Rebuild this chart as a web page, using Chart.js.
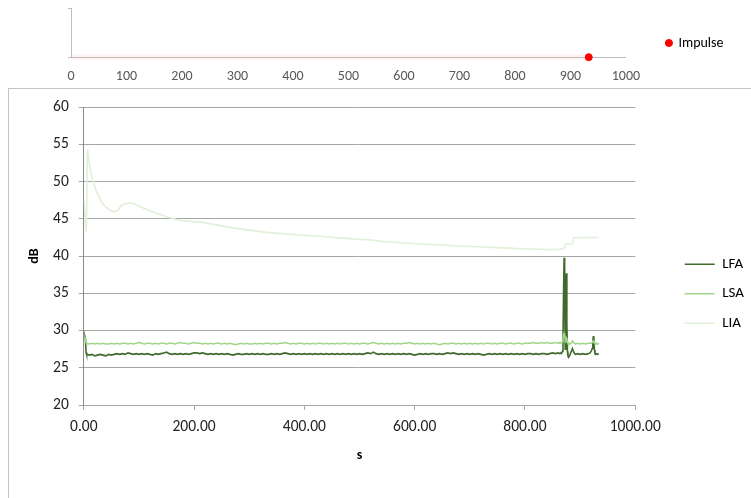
<!DOCTYPE html>
<html><head><meta charset="utf-8">
<script src="https://cdn.jsdelivr.net/npm/chart.js@4.4.1/dist/chart.umd.min.js"></script>
<style>
html,body{margin:0;padding:0;background:#fff;overflow:hidden;width:751px;height:498px;}
#top{position:absolute;left:0;top:0;}
#frame{position:absolute;left:8px;top:88px;width:760px;height:420px;border-left:1px solid #c4c4c4;border-top:1px solid #c4c4c4;}
#main{position:absolute;left:0;top:88px;}
</style></head><body>
<canvas id="top" width="751" height="96"></canvas>
<div id="frame"></div>
<canvas id="main" width="751" height="410"></canvas>
<script>
// ---------- Top chart (Impulse) ----------
const impulseTimes = [933];
const impulseValues = [0];
const trailTimes = [0, 930];
const trailValues = [0, 0];
const topTickStep = 100;

// ---------- Main chart: LFA / LSA sampling times (s) ----------
const sTimes = [0,1,2,3,4,5,
10,15,20,25,30,35,40,45,50,55,
60,65,70,75,80,85,90,95,100,105,
110,115,120,125,130,135,140,145,150,155,
160,165,170,175,180,185,190,195,200,205,
210,215,220,225,230,235,240,245,250,255,
260,265,270,275,280,285,290,295,300,305,
310,315,320,325,330,335,340,345,350,355,
360,365,370,375,380,385,390,395,400,405,
410,415,420,425,430,435,440,445,450,455,
460,465,470,475,480,485,490,495,500,505,
510,515,520,525,530,535,540,545,550,555,
560,565,570,575,580,585,590,595,600,605,
610,615,620,625,630,635,640,645,650,655,
660,665,670,675,680,685,690,695,700,705,
710,715,720,725,730,735,740,745,750,755,
760,765,770,775,780,785,790,795,800,805,
810,815,820,825,830,835,840,845,850,855,
860,
862,864,866,868,869,870,871,872,873,874,875,876,877,878,879,880,882,884,886,888,890,892,895,900,905,910,915,918,920,922,923,924,925,926,927,928,930,932,934];

const lfaValues = [29.3,29.0,29.2,28.9,27.1,26.8,
26.7,26.8,26.6,26.7,26.8,26.7,26.6,26.8,26.7,26.8,
26.9,26.8,26.9,26.8,27.0,26.9,26.8,26.9,26.8,26.9,
26.8,26.9,26.8,26.7,26.9,26.8,26.9,27.0,27.1,26.9,
26.8,26.9,26.8,26.9,26.8,26.9,26.8,26.9,27.0,27.0,
26.9,27.0,26.9,26.8,26.9,26.8,26.9,26.8,26.9,26.8,
26.9,26.8,26.7,26.8,26.9,26.8,26.8,26.9,26.8,26.9,
26.8,26.9,26.8,26.9,26.8,26.8,26.9,26.8,26.9,26.8,
26.9,27.0,26.9,26.8,26.9,26.8,26.9,26.8,26.9,26.8,
26.9,26.8,26.9,26.8,26.9,26.8,26.9,26.8,26.9,26.8,
26.9,26.8,26.9,26.8,26.9,26.8,26.9,26.8,26.9,26.8,
26.9,27.0,26.9,27.1,26.9,26.8,26.9,26.8,26.9,26.8,
26.9,26.8,26.9,26.8,26.9,26.8,26.9,26.8,26.7,26.8,
26.9,26.8,26.9,26.8,26.9,26.9,26.8,26.9,26.8,26.9,
27.0,26.9,27.0,26.9,26.8,26.9,26.8,26.9,26.8,26.9,
26.8,26.9,26.8,26.7,26.8,26.9,26.8,26.9,26.8,26.9,
26.8,26.9,26.8,26.9,26.8,26.9,26.8,26.9,26.8,26.9,
26.9,26.8,26.9,26.8,26.9,26.9,26.8,26.9,27.0,26.9,
27.0,
26.9,27.0,26.9,27.2,29.0,35.0,39.8,34.0,27.5,30.0,37.7,31.0,27.2,26.6,26.4,26.5,26.8,27.2,27.6,27.2,26.9,26.8,26.9,26.8,26.9,26.8,26.9,27.0,27.2,27.6,28.2,29.25,28.5,27.4,26.9,26.8,26.9,26.8,26.9];

const lsaValues = [29.0,28.9,29.0,28.8,28.4,28.3,
28.2,28.3,28.2,28.3,28.2,28.3,28.2,28.2,28.3,28.2,
28.3,28.2,28.3,28.3,28.2,28.3,28.2,28.3,28.4,28.3,
28.2,28.3,28.3,28.2,28.3,28.2,28.3,28.3,28.2,28.3,
28.3,28.2,28.3,28.4,28.3,28.3,28.2,28.3,28.4,28.3,
28.3,28.2,28.3,28.2,28.3,28.2,28.3,28.3,28.2,28.3,
28.2,28.3,28.2,28.1,28.2,28.3,28.2,28.3,28.2,28.2,
28.3,28.2,28.3,28.2,28.3,28.3,28.2,28.3,28.2,28.3,
28.3,28.4,28.3,28.2,28.3,28.2,28.3,28.3,28.2,28.3,
28.2,28.3,28.2,28.3,28.3,28.2,28.3,28.2,28.3,28.2,
28.3,28.2,28.3,28.3,28.2,28.3,28.2,28.3,28.2,28.3,
28.3,28.2,28.3,28.4,28.3,28.2,28.3,28.2,28.3,28.2,
28.3,28.2,28.3,28.2,28.3,28.3,28.4,28.3,28.2,28.3,
28.2,28.3,28.2,28.3,28.2,28.3,28.2,28.1,28.2,28.3,
28.2,28.3,28.3,28.2,28.3,28.2,28.3,28.2,28.3,28.2,
28.3,28.2,28.3,28.2,28.3,28.3,28.2,28.3,28.2,28.3,
28.3,28.2,28.3,28.3,28.2,28.3,28.3,28.2,28.3,28.3,
28.3,28.4,28.3,28.3,28.4,28.3,28.4,28.3,28.3,28.4,
28.3,
28.4,28.3,28.4,28.5,28.9,29.4,29.6,29.4,29.0,28.8,29.0,28.8,28.5,28.3,28.2,28.3,28.2,28.3,28.6,28.4,28.3,28.2,28.3,28.2,28.3,28.2,28.3,28.3,28.3,28.4,28.5,28.6,28.5,28.4,28.3,28.2,28.3,28.2,28.3];

// ---------- LIA ----------
const liaTimes = [0,2,4.4,6.7,9,13.5,18,22.5,28,34.5,42,49.8,57.6,62,68,74,80,87,95,107,119,135,150,165,180,195,211,240,271,300,332,362,392,422,453,483,513,530,537,574,620,660,700,750,790,820,840,860,868,872,874,886,889,900,934];
const liaValues = [47.7,45.5,43.4,54.3,52.8,51.0,49.8,48.8,47.9,47.0,46.5,46.1,46.0,46.2,46.8,47.0,47.1,47.1,46.9,46.5,46.1,45.7,45.3,45.0,44.75,44.65,44.6,44.2,43.8,43.5,43.2,43.0,42.85,42.7,42.5,42.35,42.2,42.1,42.0,41.8,41.6,41.45,41.3,41.15,41.0,40.95,40.9,40.9,41.0,41.2,41.65,41.65,42.45,42.5,42.5];

const seriesNames = ['LFA','LSA','LIA'];
const xTitle = 's';
const yTitle = 'dB';

const FONT = "Carlito, 'Liberation Sans', Arial, sans-serif";

const legendNudge = {
  id: 'legendNudge',
  afterLayout(chart, args, opts) {
    const l = chart.legend;
    if (!l || !opts) return;
    const dx = opts.dx || 0, dy = opts.dy || 0;
    l.left += dx; l.right += dx; l.top += dy; l.bottom += dy;
  }
};

const pts = (xs, ys) => xs.map((t, i) => ({x: t, y: ys[i]}));

new Chart(document.getElementById('top'), {
  type: 'scatter',
  data: {
    datasets: [
      {label: 'Impulse', data: pts(impulseTimes, impulseValues), pointRadius: 3.5,
       backgroundColor: '#ff0000', borderColor: '#ff0000', pointBackgroundColor: '#ff0000',
       pointBorderColor: '#ff0000', clip: false, showLine: false, order: 1},
      {label: 'trail', type: 'line', data: pts(trailTimes, trailValues),
       borderColor: 'rgba(255,110,110,0.08)', borderWidth: 6, pointRadius: 0, clip: false, order: 2}
    ]
  },
  options: {
    responsive: false, animation: false, events: [],
    layout: {padding: {left: 68, right: 48, top: 8, bottom: 0}},
    scales: {
      x: {type: 'linear', min: 0, max: 1000,
          ticks: {stepSize: topTickStep, callback: (v) => String(v), color: '#595959',
                  font: {family: FONT, size: 14}, padding: 11, maxRotation: 0},
          grid: {display: false, drawTicks: false},
          border: {display: true, color: '#bfbfbf'}},
      y: {min: 0, max: 1,
          ticks: {display: false, stepSize: 1},
          grid: {drawOnChartArea: false, drawTicks: true, tickLength: 3, color: '#bfbfbf'},
          border: {display: true, color: '#bfbfbf'}}
    },
    plugins: {
      legend: {position: 'right',
        labels: {usePointStyle: true, pointStyle: 'circle', boxWidth: 5, boxHeight: 5, padding: 10,
                 color: '#000', font: {family: FONT, size: 14},
                 filter: (item) => item.text === 'Impulse'}},
      legendNudge: {dx: 30.5, dy: -9},
      tooltip: {enabled: false}
    }
  },
  plugins: [legendNudge]
});

new Chart(document.getElementById('main'), {
  type: 'line',
  data: {
    datasets: [
      {label: seriesNames[0], data: pts(sTimes, lfaValues), borderColor: '#3f6a2c', backgroundColor: '#3f6a2c',
       borderWidth: 1.6, pointRadius: 0, tension: 0, order: 3},
      {label: seriesNames[1], data: pts(sTimes, lsaValues), borderColor: '#a2d68a', backgroundColor: '#a2d68a',
       borderWidth: 1.6, pointRadius: 0, tension: 0, order: 2},
      {label: seriesNames[2], data: pts(liaTimes, liaValues), borderColor: '#e1f0d8', backgroundColor: '#e1f0d8',
       borderWidth: 1.6, pointRadius: 0, tension: 0.2, order: 1}
    ]
  },
  options: {
    responsive: false, animation: false, events: [],
    layout: {padding: {left: 24.3, right: 32, top: 18, bottom: 30.6}},
    scales: {
      x: {type: 'linear', min: 0, max: 1000,
          ticks: {stepSize: 200, callback: (v) => Number(v).toFixed(2), color: '#222',
                  font: {family: FONT, size: 15.5}, padding: 8, maxRotation: 0},
          grid: {display: true, drawOnChartArea: false, drawTicks: true, tickLength: 5, color: '#a6a6a6'},
          border: {display: true, color: '#a6a6a6'},
          title: {display: true, text: xTitle, color: '#000', font: {family: FONT, size: 14, weight: 'bold'},
                  padding: {top: 2, bottom: 4}}},
      y: {min: 20, max: 60,
          ticks: {stepSize: 5, color: '#222', font: {family: FONT, size: 15.5}, padding: 10},
          grid: {color: '#a6a6a6', tickLength: 5},
          border: {display: true, color: '#8a8a8a'},
          title: {display: true, text: yTitle, color: '#000', font: {family: FONT, size: 14, weight: 'bold'},
                  padding: {top: 2, bottom: 0}}}
    },
    plugins: {
      legend: {position: 'right',
        labels: {usePointStyle: true, pointStyle: 'line', pointStyleWidth: 30, padding: 14.5,
                 color: '#000', font: {family: FONT, size: 15},
                 sort: (a, b) => a.datasetIndex - b.datasetIndex}},
      legendNudge: {dx: 35, dy: 7},
      tooltip: {enabled: false}
    }
  },
  plugins: [legendNudge]
});
</script>
</body></html>
